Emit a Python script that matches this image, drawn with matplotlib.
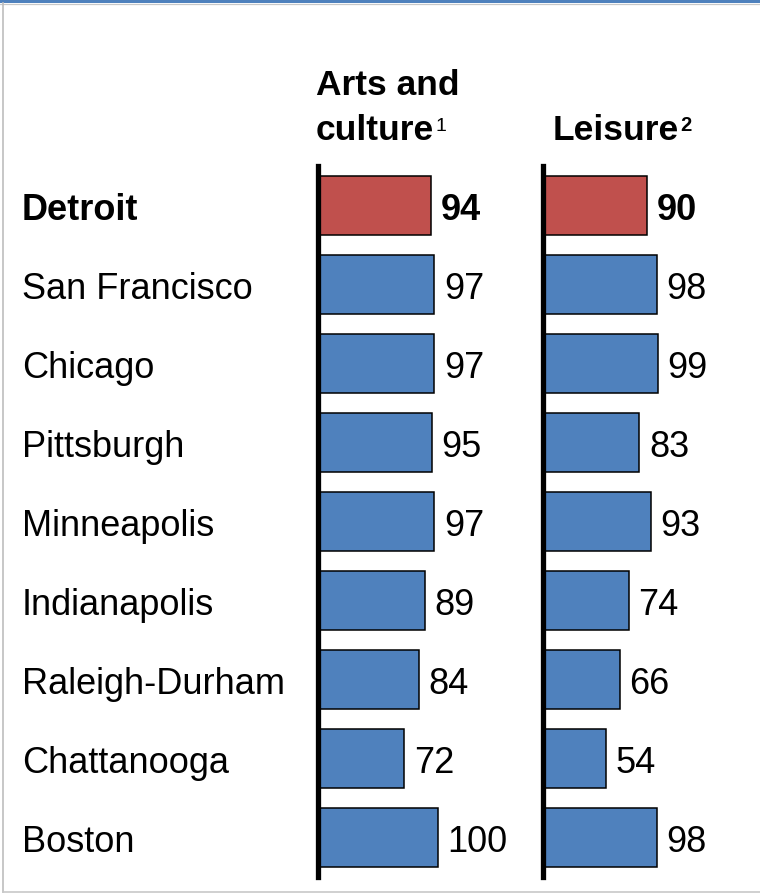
import matplotlib
matplotlib.use('Agg')
import matplotlib.pyplot as plt
import matplotlib.transforms as mtransforms
from matplotlib.patches import Rectangle
from matplotlib.lines import Line2D

plt.rcParams['font.family'] = ['Liberation Sans', 'DejaVu Sans']

cities = ['Detroit', 'San Francisco', 'Chicago', 'Pittsburgh', 'Minneapolis',
          'Indianapolis', 'Raleigh-Durham', 'Chattanooga', 'Boston']
arts = [94, 97, 97, 95, 97, 89, 84, 72, 100]
leisure = [90, 98, 99, 83, 93, 74, 66, 54, 98]

RED = '#C0504D'
BLUE = '#4F81BD'
W, H = 760, 895
FS = 26

fig = plt.figure(figsize=(7.6, 8.95), dpi=100)

def fx(px):
    return px / W

def fy(py):
    return 1 - py / H

# frame lines
fig.add_artist(Rectangle((0, fy(4)), 1, 4 / H, transform=fig.transFigure,
                         facecolor=BLUE, edgecolor='none'))
fig.add_artist(Line2D([0, 1], [fy(5), fy(5)], transform=fig.transFigure,
                      color='#c8c8c8', lw=0.9))
fig.add_artist(Line2D([fx(2.8), fx(2.8)], [fy(4), fy(893)], transform=fig.transFigure,
                      color='#bdbdbd', lw=1.2))
fig.add_artist(Line2D([fx(2.8), 1], [fy(893), fy(893)], transform=fig.transFigure,
                      color='#c8c8c8', lw=1.2))

top, bottom = 167, 878
n = len(cities)
colors = [RED] + [BLUE] * (n - 1)

panels = [(arts, 318, 1.20), (leisure, 543, 1.16)]
axes = []
for vals, left, scale in panels:
    width = 217
    ax = fig.add_axes([fx(left), fy(bottom), width / W, (bottom - top) / H])
    ax.barh(range(n), vals, height=0.74, color=colors, edgecolor='black', linewidth=1.1)
    ax.set_xlim(0, width / scale)
    ax.set_ylim(n - 0.5, -0.5)
    for s in ['top', 'right', 'bottom']:
        ax.spines[s].set_visible(False)
    ax.spines['left'].set_linewidth(3.8)
    ax.spines['left'].set_color('black')
    ax.set_xticks([])
    ax.set_yticks([])
    ax.patch.set_alpha(0)
    for i, v in enumerate(vals):
        ax.annotate(str(v), (v, i), xytext=(7, 0), textcoords='offset points',
                    ha='left', va='center_baseline', fontsize=FS,
                    fontweight='bold' if i == 0 else 'normal')
    axes.append(ax)

# city labels
trans = mtransforms.blended_transform_factory(fig.transFigure, axes[0].transData)
for i, c in enumerate(cities):
    fig.text(fx(22), i, c, transform=trans, ha='left', va='center_baseline', fontsize=FS,
             fontweight='bold' if i == 0 else 'normal')

# headers
fig.text(fx(316), fy(95), 'Arts and', ha='left', va='baseline', fontsize=25.5, fontweight='bold')
t1 = fig.text(fx(316), fy(140), 'culture', ha='left', va='baseline', fontsize=25.5, fontweight='bold')
t2 = fig.text(fx(553), fy(140), 'Leisure', ha='left', va='baseline', fontsize=25.5, fontweight='bold')

fig.canvas.draw()
r = fig.canvas.get_renderer()
e1 = t1.get_window_extent(r)
e2 = t2.get_window_extent(r)
fig.text(e1.x1 / fig.bbox.width + fx(1), fy(131), '1', ha='left', va='baseline', fontsize=14)
fig.text(e2.x1 / fig.bbox.width + fx(1), fy(131), '2', ha='left', va='baseline', fontsize=14.5,
         fontweight='bold')

fig.savefig('out.png', dpi=100)
